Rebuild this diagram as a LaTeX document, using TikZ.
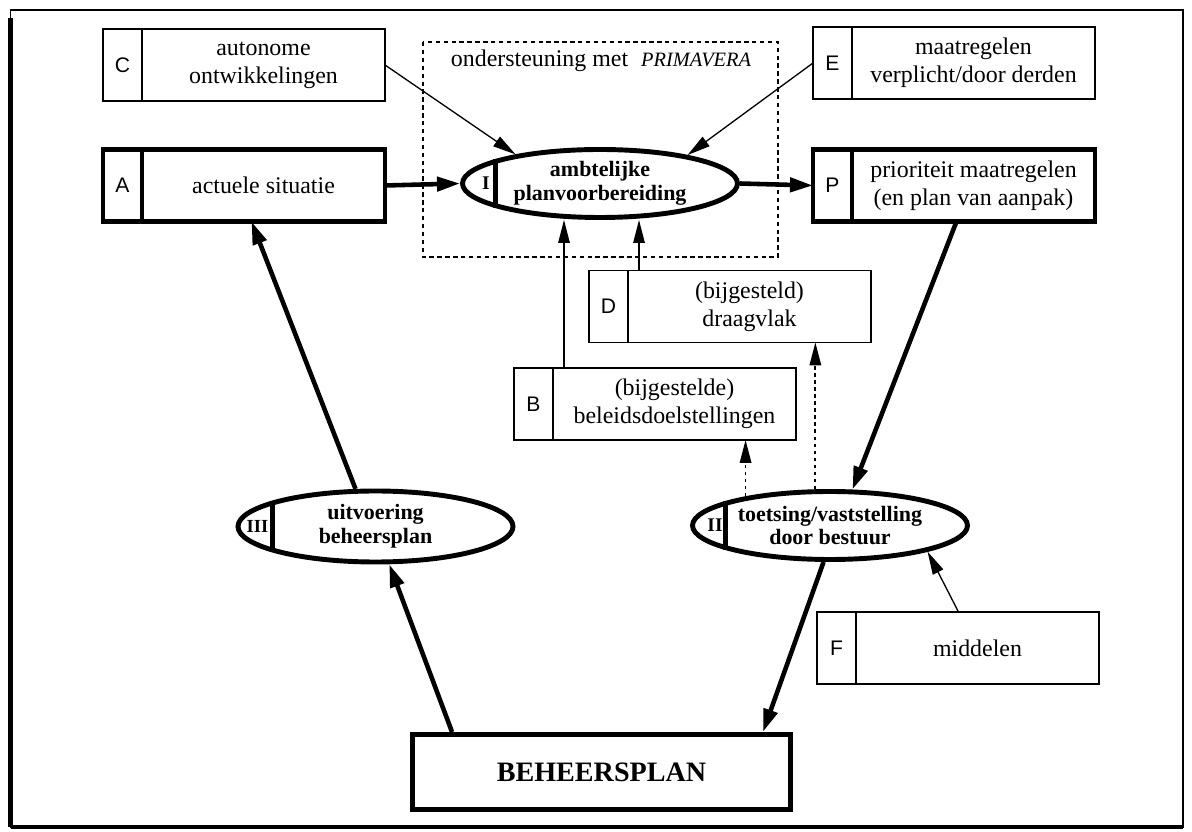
\documentclass[tikz,border=0pt]{standalone}
\usepackage{fontspec}
\setmainfont{Liberation Serif}
\setsansfont{Liberation Sans}
\usetikzlibrary{arrows.meta,positioning,shapes.geometric}

\begin{document}
\begin{tikzpicture}[x=1cm,y=1cm]
\tikzset{
  lettercell/.style={rectangle,draw=black,line width=0.9pt,minimum width=7.8mm,minimum height=14.4mm,inner sep=0pt,outer sep=0pt,font=\sffamily\fontsize{12}{14}\selectfont},
  textcell/.style={rectangle,draw=black,line width=0.9pt,minimum width=48.6mm,minimum height=14.4mm,inner sep=1pt,outer sep=0pt,align=center,font=\fontsize{13.6}{16}\selectfont},
  heavy/.style={line width=2.8pt},
  phase/.style={ellipse,draw=black,line width=2.8pt,minimum width=55mm,minimum height=13.6mm,inner sep=0pt,align=center,font=\bfseries\fontsize{12.5}{13.5}\selectfont},
  phasenum/.style={inner sep=0pt,font=\bfseries\fontsize{11}{13}\selectfont},
  planbox/.style={rectangle,draw=black,line width=2.8pt,minimum width=75.6mm,minimum height=15mm,font=\bfseries\fontsize{16}{18}\selectfont},
  flowedge/.style={draw=black,line width=2.6pt,-{Triangle[length=4.6mm,width=2.8mm]}},
  inputedge/.style={draw=black,line width=0.75pt,-{Triangle[length=4.6mm,width=2.3mm]}},
  feedback/.style={draw=black,line width=1pt,dash pattern=on 2pt off 2pt,-{Triangle[length=4.6mm,width=2.3mm]}},
  supportbox/.style={draw=black,line width=0.75pt,dash pattern=on 2.5pt off 2pt},
  frameline/.style={draw=black,line width=0.9pt}
}
\useasboundingbox (0,0) rectangle (23.84,-16.64);
% outer frame
\draw[frameline] (0.21,-0.2) rectangle (23.66,-16.54);
\draw[line width=2.6pt] (0.21,-0.36) -- (0.21,-16.54);
\draw[line width=2pt] (0.21,-16.54) -- (23.66,-16.54);
% support area
\draw[supportbox] (8.46,-0.84) rectangle (15.56,-5.14);
\node[font=\fontsize{13.6}{16}\selectfont] (n_support) at (12.02,-1.22) {ondersteuning met\hspace{2.6mm}{\itshape\fontsize{11.6}{16}\selectfont PRIMAVERA}};
% input boxes
\node[lettercell] (n_Cl) at (2.45,-1.30) {C};
\node[textcell,right=0pt of n_Cl] (n_C) {autonome\\ontwikkelingen};
\node[lettercell,heavy] (n_Al) at (2.45,-3.71) {A};
\node[textcell,heavy,right=0pt of n_Al] (n_A) {actuele situatie};
\node[lettercell] (n_El) at (16.65,-1.26) {E};
\node[textcell,right=0pt of n_El] (n_E) {maatregelen\\verplicht/door derden};
\node[lettercell,heavy] (n_Pl) at (16.65,-3.71) {P};
\node[textcell,heavy,right=0pt of n_Pl] (n_P) {prioriteit maatregelen\\(en plan van aanpak)};
\node[lettercell] (n_Dl) at (12.17,-6.13) {D};
\node[textcell,right=0pt of n_Dl] (n_D) {(bijgesteld)\\draagvlak};
\node[lettercell] (n_Bl) at (10.67,-8.08) {B};
\node[textcell,right=0pt of n_Bl] (n_B) {(bijgestelde)\\beleidsdoelstellingen};
\node[lettercell] (n_Fl) at (16.73,-12.96) {F};
\node[textcell,right=0pt of n_Fl] (n_F) {middelen};
% phases
\node[phase] (n_I) at (12.00,-3.67) {ambtelijke\\planvoorbereiding};
\draw[heavy] (n_I.167) -- (n_I.193);
\node[phasenum] (n_Inum) at ([xshift=-22.8mm]n_I.center) {I};
\node[phase] (n_II) at (16.60,-10.51) {toetsing/vaststelling\\door bestuur};
\draw[heavy] (n_II.167) -- (n_II.193);
\node[phasenum] (n_IInum) at ([xshift=-23.0mm]n_II.center) {II};
\node[phase,minimum height=14.2mm] (n_III) at (7.51,-10.53) {uitvoering\\beheersplan};
\draw[heavy] (n_III.166) -- (n_III.194);
\node[phasenum,font=\bfseries\fontsize{10.5}{13}\selectfont] (n_IIInum) at ([xshift=-23.6mm]n_III.center) {III};
\node[planbox] (n_plan) at (12.03,-15.44) {BEHEERSPLAN};
% main cycle
\draw[flowedge] (n_A.east) -- (n_I.west);
\draw[flowedge] (n_I.east) -- (n_Pl.west);
\draw[flowedge] ([xshift=-3.4mm]n_P.south) -- (n_II.58);
\draw[flowedge] (n_II.-100) -- ([xshift=-6mm]n_plan.north east);
\draw[flowedge] ([xshift=8.4mm]n_plan.north west) -- (n_III.-70);
\draw[flowedge] (n_III.118) -- ([xshift=-2.4mm]n_A.south);
% inputs
\draw[inputedge] (n_C.east) -- (n_I.161);
\draw[inputedge] (n_El.west) -- (n_I.18);
\draw[inputedge] ([xshift=2.2mm]n_B.north west) -- ([xshift=2.2mm]n_B.north west |- n_I.south);
\draw[inputedge] ([xshift=2.2mm]n_D.north west) -- ([xshift=2.2mm]n_D.north west |- n_I.south);
\draw[inputedge] ([xshift=-3.8mm]n_F.north) -- (n_II.-15);
% feedback
\draw[feedback] (n_II.161) -- (n_II.161 |- n_B.south);
\draw[feedback] (n_II.112) -- (n_II.112 |- n_D.south);
\end{tikzpicture}
\end{document}
